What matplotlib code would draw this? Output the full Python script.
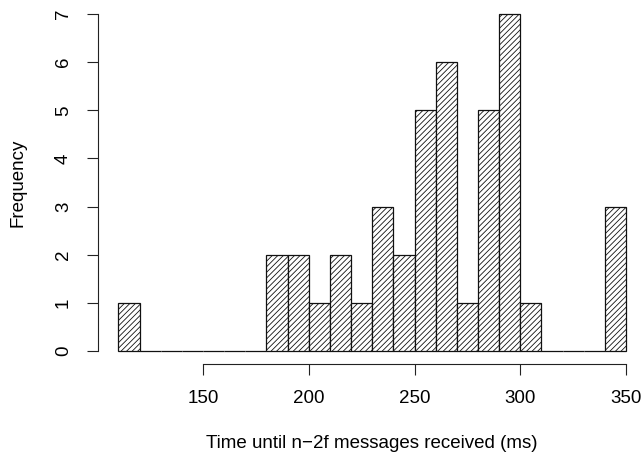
import matplotlib
matplotlib.use("Agg")
import matplotlib.pyplot as plt
import numpy as np

# histogram of time until n-2f messages arrive, 10 ms bins
bin_left = [110, 120, 130, 140, 150, 160, 170, 180, 190, 200, 210, 220,
            230, 240, 250, 260, 270, 280, 290, 300, 310, 320, 330, 340]
counts = [1, 0, 0, 0, 0, 0, 0, 2, 2, 1, 2, 1,
          3, 2, 5, 6, 1, 5, 7, 1, 0, 0, 0, 3]
bin_width = 10
x_ticks = [150, 200, 250, 300, 350]
y_ticks = [0, 1, 2, 3, 4, 5, 6, 7]

plt.rcParams['font.family'] = ['Liberation Sans', 'DejaVu Sans']
plt.rcParams['font.size'] = 13.5
plt.rcParams['hatch.linewidth'] = 0.6
plt.rcParams['hatch.color'] = '#222222'

W, H = 642, 457
fig = plt.figure(figsize=(W / 100, H / 100), dpi=100)

# plot region in pixels (x 110..350 -> 118.4..626, y 0..7 -> 351..14)
x0, x1 = 118.4, 626.0
y0, y1 = 351.0, 14.0
ax = fig.add_axes([x0 / W, (H - y0) / H, (x1 - x0) / W, (y0 - y1) / H])

bars = ax.bar(bin_left, counts, width=bin_width, align='edge',
              facecolor='white', edgecolor='#111111', linewidth=0.9,
              hatch='//////')
for b in bars:
    b.set_clip_on(False)

ax.set_xlim(110, 350)
ax.set_ylim(0, 7)
ax.patch.set_visible(False)

ax.spines['top'].set_visible(False)
ax.spines['right'].set_visible(False)
ax.spines['left'].set_position(('outward', 14.5))
ax.spines['bottom'].set_position(('outward', 9.4))
ax.spines['left'].set_bounds(0, 7)
ax.spines['bottom'].set_bounds(150, 350)
for s in ('left', 'bottom'):
    ax.spines[s].set_linewidth(0.8)
    ax.spines[s].set_color('#222222')

ax.set_xticks(x_ticks)
ax.set_yticks(y_ticks)
ax.tick_params(axis='both', direction='out', length=7.9, width=0.8,
               color='#222222')
ax.tick_params(axis='x', pad=11)
ax.tick_params(axis='y', pad=11, labelrotation=90)
for lab in ax.get_yticklabels():
    lab.set_va('center')

ax.set_xlabel('Time until n\u22122f messages received (ms)', labelpad=20)
fig.text(18 / W, (H - 182.5) / H, 'Frequency', rotation=90,
         ha='center', va='center', fontsize=13.5)

fig.savefig('out.png', dpi=100)
